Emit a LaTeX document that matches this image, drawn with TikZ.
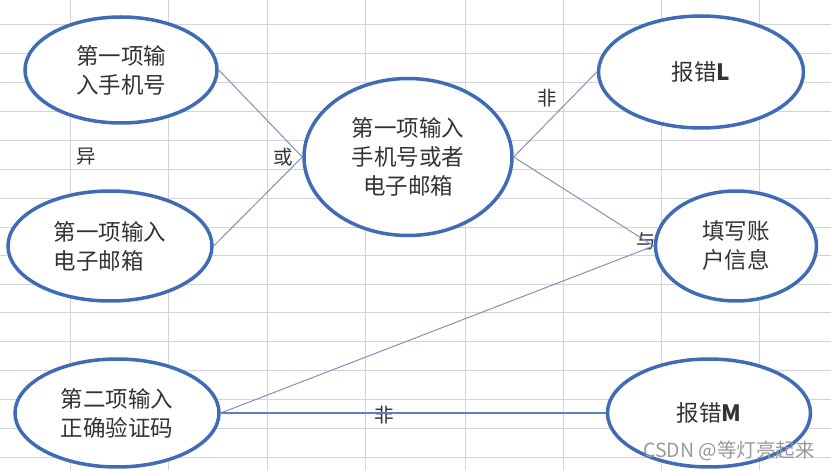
\documentclass[tikz,border=0pt]{standalone}
\usepackage{fontspec}
\setmainfont{Noto Sans CJK SC}
\usetikzlibrary{shapes.geometric}
\definecolor{ellblue}{HTML}{3F6CB4}
\definecolor{gridc}{HTML}{D4D4D8}
\definecolor{linec}{HTML}{8291BC}
\definecolor{linec2}{HTML}{5C80C4}
\definecolor{txtc}{HTML}{333333}
\tikzset{
  ell/.style={ellipse, draw=ellblue, line width=3.5pt, fill=white, inner sep=0pt,
    text=txtc, font=\fontsize{22.5}{29}\selectfont, align=center},
  conn/.style={draw=linec, line width=1pt},
  conn2/.style={draw=linec2, line width=1.6pt},
  lbl/.style={text=txtc, font=\fontsize{19.5}{22}\selectfont, inner sep=0pt},
  gridline/.style={draw=gridc, line width=1pt},
  wmark/.style={text=black!40, font=\fontsize{19.5}{22}\selectfont, inner sep=0pt}
}
\begin{document}
\begin{tikzpicture}[x=1pt,y=-1pt]
\useasboundingbox (0,0) rectangle (831,470);
\fill[white] (0,0) rectangle (831,470);
\foreach \x in {70,168,267,365,465,563,661,759}
  \draw[gridline] (\x,0) -- (\x,470);
\foreach \y in {25,54,83,112,141,170,199,228,256,285,313,342,371,400,429,458}
  \draw[gridline] (0,\y) -- (831,\y);

\node[lbl] (yi) at (86,157) {异};
\node[lbl] (huo) at (283,157) {或};
\node[lbl] (fei1) at (547,98) {非};
\node[lbl] (yu) at (646,241) {与};
\node[lbl] (fei2) at (384,415) {非};

\node[ell, minimum width=192pt, minimum height=106pt] (a) at (121,70) {第一项输\\入手机号};
\node[ell, minimum width=204pt, minimum height=110pt, align=left] (b) at (110,246) {第一项输入\\电子邮箱};
\node[ell, minimum width=208pt, minimum height=157pt] (c) at (408,157) {第一项输入\\手机号或者\\电子邮箱};
\node[ell, minimum width=205pt, minimum height=112pt] (d) at (701,72) {报错\textbf{L}};
\node[ell, minimum width=161pt, minimum height=110pt] (e) at (736,246) {填写账\\户信息};
\node[ell, minimum width=204pt, minimum height=108pt] (f) at (117,413) {第二项输入\\正确验证码};
\node[ell, minimum width=203pt, minimum height=108pt] (g) at (709,413) {报错\textbf{M}};

\draw[conn] (a.east) -- (c.west);
\draw[conn] (b.east) -- (c.west);
\draw[conn] (c.east) -- (d.west);
\draw[conn] (c.east) -- (e.west);
\draw[conn] (f.east) -- (e.west);
\draw[conn2] (f.east) -- (g.west);

\node[wmark] (wm) at (729,451) {CSDN @等灯亮起来};
\end{tikzpicture}
\end{document}
